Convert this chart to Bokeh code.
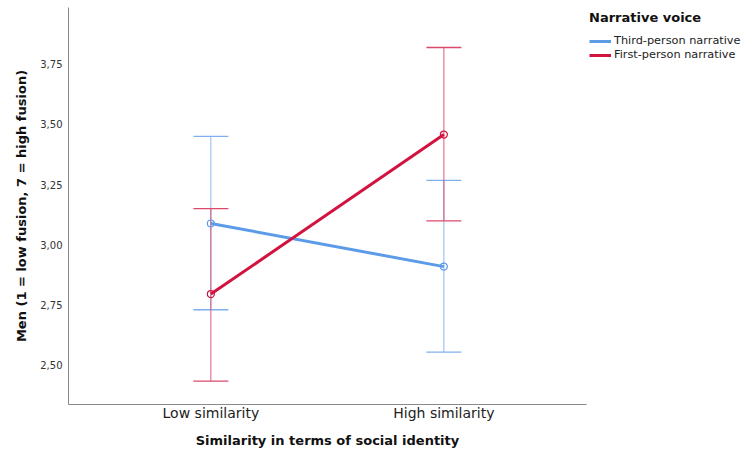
from bokeh.plotting import figure
from bokeh.models import (Range1d, FixedTicker, CustomJSTickFormatter, Legend, LegendItem,
                          ColumnDataSource, Whisker)
from bokeh.embed import file_html
from bokeh.resources import INLINE

categories = ["Low similarity", "High similarity"]
series_names = ["Third-person narrative", "First-person narrative"]
third_mean = [3.089, 2.910]
third_lower = [2.731, 2.555]
third_upper = [3.450, 3.268]
first_mean = [2.796, 3.458]
first_lower = [2.435, 3.100]
first_upper = [3.151, 3.819]
y_ticks = [2.50, 2.75, 3.00, 3.25, 3.50, 3.75]

colors = ["#5B9BE8", "#D2133F"]
bar_colors = ["#7FB0EE", "#DB4A6B"]

FONT = "DejaVu Sans"

p = figure(frame_width=518, frame_height=397, output_backend="svg", toolbar_location=None,
           x_range=Range1d(0.389, 2.612), y_range=Range1d(2.338, 3.985),
           min_border_left=68, min_border_right=0, min_border_top=7, min_border_bottom=50)
p.outline_line_color = None
p.grid.visible = False

xs = [i + 1 for i in range(len(categories))]

series = [(third_mean, third_lower, third_upper), (first_mean, first_lower, first_upper)]
items = []
for k, (m, lo, hi) in enumerate(series):
    src = ColumnDataSource(dict(x=xs, m=m, lo=lo, hi=hi))
    w = Whisker(source=src, base="x", lower="lo", upper="hi", dimension="height",
                line_color=bar_colors[k], line_width=1, line_alpha=0.9)
    w.upper_head.size = 35
    w.lower_head.size = 35
    w.upper_head.line_color = bar_colors[k]
    w.lower_head.line_color = bar_colors[k]
    w.upper_head.line_width = 1.3
    w.lower_head.line_width = 1.3
    p.add_layout(w)

for k, (m, lo, hi) in enumerate(series):
    src = ColumnDataSource(dict(x=xs, m=m))
    ln = p.line("x", "m", source=src, line_color=colors[k], line_width=3)
    p.scatter("x", "m", source=src, size=7, marker="circle", fill_color=None,
              line_color=colors[k], line_width=1.2)
    items.append(LegendItem(label=series_names[k], renderers=[ln]))

p.xaxis.ticker = FixedTicker(ticks=xs)
p.xaxis.major_label_overrides = {x: c for x, c in zip(xs, categories)}
p.yaxis.ticker = FixedTicker(ticks=y_ticks)
p.yaxis.formatter = CustomJSTickFormatter(code="return tick.toFixed(2).replace('.', ',');")

for ax in (p.xaxis[0], p.yaxis[0]):
    ax.axis_line_color = "#888888"
    ax.axis_line_width = 1
    ax.major_tick_line_color = None
    ax.minor_tick_line_color = None
    ax.major_tick_out = 0
    ax.major_tick_in = 0
    ax.minor_tick_out = 0
    ax.axis_label_text_font = FONT
    ax.axis_label_text_font_style = "bold"
    ax.axis_label_text_font_size = "13px"
    ax.axis_label_text_color = "#111111"
    ax.major_label_text_font = FONT

p.xaxis.axis_label = "Similarity in terms of social identity"
p.yaxis.axis_label = "Men (1 = low fusion, 7 = high fusion)"
p.xaxis.major_label_text_font_size = "14px"
p.xaxis.major_label_text_color = "#222222"
p.xaxis.major_label_standoff = 0
p.xaxis.axis_label_standoff = 9
p.yaxis.major_label_text_font_size = "10px"
p.yaxis.major_label_text_color = "#333333"
p.yaxis.major_label_standoff = 6
p.yaxis.axis_label_standoff = 8

legend = Legend(items=items, location="top_left", title="Narrative voice",
                title_text_font=FONT, title_text_font_style="bold", title_text_font_size="13px",
                title_text_color="#111111", title_standoff=9,
                label_text_font=FONT, label_text_font_size="11.3px", label_text_color="#222222",
                glyph_width=22, glyph_height=10, label_standoff=3, spacing=1,
                label_height=13, padding=0, margin=3,
                border_line_color=None, background_fill_alpha=0)
p.add_layout(legend, "right")

open("out.html", "w").write(file_html(p, INLINE))
